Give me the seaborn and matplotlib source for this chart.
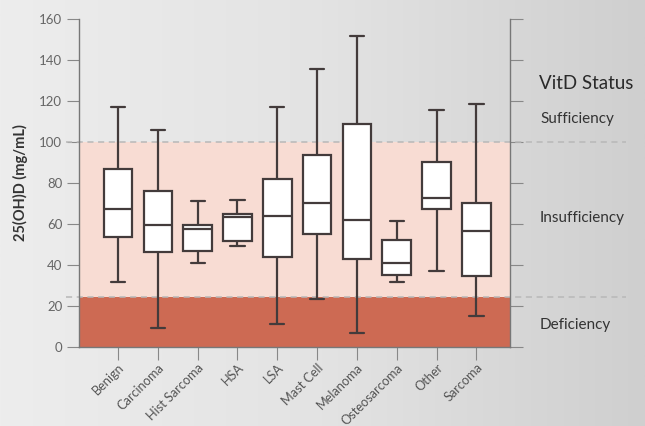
import numpy as np
import pandas as pd
import matplotlib
matplotlib.use("Agg")
import matplotlib.pyplot as plt
import seaborn as sns

# =========================
# DATA (five-number summaries)
# =========================

categories = ["Benign", "Carcinoma", "Hist Sarcoma", "HSA", "LSA",
              "Mast Cell", "Melanoma", "Osteosarcoma", "Other", "Sarcoma"]

whisker_low = [31.8, 9.0, 40.6, 48.9, 11.2, 23.2, 6.7, 31.8, 36.7, 14.9]
q1 = [53.5, 46.3, 46.6, 51.5, 43.7, 54.8, 43.0, 34.9, 67.3, 34.6]
median = [67.0, 59.2, 57.2, 63.1, 63.6, 70.3, 61.8, 41.0, 72.4, 56.4]
q3 = [86.7, 75.8, 59.5, 64.9, 82.0, 93.4, 108.7, 52.2, 90.0, 70.1]
whisker_high = [117.0, 105.8, 70.9, 71.4, 117.0, 135.3, 151.3, 61.5, 115.3, 118.5]

status_labels = ["Sufficiency", "Insufficiency", "Deficiency"]
status_y = [111, 63, 10.5]
deficiency_cut = 24.5
sufficiency_cut = 100

# long-form table: five points per group give exact quartiles
rows = []
for i, cat in enumerate(categories):
    for v in (whisker_low[i], q1[i], median[i], q3[i], whisker_high[i]):
        rows.append({"group": cat, "value": v})
df = pd.DataFrame(rows)

# =========================
# FIGURE
# =========================

sns.set_style("white")
plt.rcParams["font.family"] = ["Lato", "DejaVu Sans"]

fig = plt.figure(figsize=(6.45, 4.26), dpi=100)

# gradient background
bg = fig.add_axes([0, 0, 1, 1], zorder=-10)
grad = np.linspace(0, 1, 256)[None, :]
bg.imshow(grad, aspect="auto", cmap=matplotlib.colors.LinearSegmentedColormap.from_list(
    "bg", ["#ededed", "#e3e3e3", "#cfcfcf"]), extent=[0, 1, 0, 1])
bg.axis("off")

ax = fig.add_axes([0.1225, 0.186, 0.668, 0.7705])
ax.set_facecolor("none")

# status bands
ax.axhspan(0, deficiency_cut, color="#cd6a53", zorder=0, lw=0)
ax.axhspan(deficiency_cut, sufficiency_cut, color="#f8dcd3", zorder=0, lw=0)
for yv in (deficiency_cut, sufficiency_cut):
    ax.axhline(yv, xmin=-0.03, xmax=1.27, color="#b8b8b8", ls=(0, (4, 3)),
               lw=1.1, clip_on=False, zorder=1)

edge = "#433b3b"
sns.boxplot(data=df, x="group", y="value", order=categories, whis=(0, 100),
            width=0.72, color="white", linecolor=edge, linewidth=1.6,
            fliersize=0, ax=ax,
            boxprops=dict(facecolor="white", edgecolor=edge, zorder=3),
            medianprops=dict(color=edge, zorder=4),
            whiskerprops=dict(color=edge, zorder=2),
            capprops=dict(color=edge, zorder=2))

ax.set_xlim(-0.98, 9.84)
ax.set_ylim(0, 160)
ax.set_yticks(range(0, 161, 20))
ax.set_xlabel("")
ax.set_ylabel("25(OH)D (mg/mL)", fontsize=10.5, color="#333333",
              fontweight="bold", labelpad=8)

ax.spines["top"].set_visible(False)
for s in ["left", "right", "bottom"]:
    ax.spines[s].set_color("#777777")
    ax.spines[s].set_linewidth(1.0)

ax.tick_params(axis="y", which="both", left=True, right=True, labelright=False,
               direction="out", length=9, width=0.8, color="#888888",
               labelsize=9.5, labelcolor="#666666", pad=3)
ax.tick_params(axis="x", bottom=True, direction="out", length=9, width=0.8,
               color="#888888", labelsize=9.2, labelcolor="#555555", pad=1.5)
plt.setp(ax.get_xticklabels(), rotation=45, ha="right", rotation_mode="anchor")

# status legend text on the right
fig.text(0.836, 0.805, "VitD Status", fontsize=13.5, color="#2a2a2a",
         va="center", ha="left")
for lab, yv in zip(status_labels, status_y):
    ax.text(1.07, yv, lab, transform=ax.get_yaxis_transform(), fontsize=11,
            color="#333333", va="center", ha="left")

fig.savefig("out.png", dpi=100)
